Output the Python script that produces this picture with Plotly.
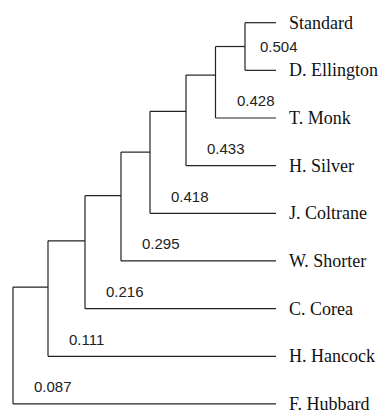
import plotly.graph_objects as go

# ---- data ----
leaf_names = ["Standard", "D. Ellington", "T. Monk", "H. Silver", "J. Coltrane",
              "W. Shorter", "C. Corea", "H. Hancock", "F. Hubbard"]
# internal node support values, from the root inward
node_labels = ["0.087", "0.111", "0.216", "0.295", "0.418", "0.433", "0.428", "0.504"]
# branch lengths between successive internal nodes (root inward), and tip length
branch_lengths = [3.5, 3.7, 3.6, 2.9, 3.6, 2.95, 2.95]
tip_length = 3.1

# ---- layout of the (caterpillar) tree ----
n_int = len(node_labels)
node_x = [0.0]
for b in branch_lengths:
    node_x.append(node_x[-1] + b)
tip_x = node_x[-1] + tip_length
leaf_y = list(range(len(leaf_names)))
f = 0.4  # where a node's stem attaches along its vertical

join = [0.0] * n_int
join[n_int - 1] = (leaf_y[0] + leaf_y[1]) / 2
for k in range(n_int - 2, -1, -1):
    bottom = leaf_y[len(leaf_names) - 1 - k]
    join[k] = join[k + 1] + f * (bottom - join[k + 1])

xs, ys = [], []
def seg(x0, y0, x1, y1):
    xs.extend([x0, x1, None]); ys.extend([y0, y1, None])

label_pos = []
for k in range(n_int):
    if k < n_int - 1:
        top_y = join[k + 1]
        bottom_leaf = len(leaf_names) - 1 - k
        seg(node_x[k], top_y, node_x[k + 1], top_y)
        label_pos.append((node_x[k] + 1.9, leaf_y[bottom_leaf] - 0.357))
    else:
        top_y = leaf_y[0]
        bottom_leaf = 1
        seg(node_x[k], leaf_y[0], tip_x, leaf_y[0])
        label_pos.append((node_x[k] + 1.3, (leaf_y[0] + leaf_y[1]) / 2))
    seg(node_x[k], top_y, node_x[k], leaf_y[bottom_leaf])
    seg(node_x[k], leaf_y[bottom_leaf], tip_x, leaf_y[bottom_leaf])

fig = go.Figure()
fig.add_trace(go.Scatter(x=xs, y=ys, mode="lines",
                         line=dict(color="#222222", width=1.2),
                         hoverinfo="skip", showlegend=False))

annotations = []
for name, y in zip(leaf_names, leaf_y):
    annotations.append(dict(x=tip_x + 1.1, y=y, xref="x", yref="y", text=name,
                            showarrow=False, xanchor="left", yanchor="middle",
                            font=dict(family="Liberation Serif", size=18, color="#111111")))
for lab, (x, y) in zip(node_labels, label_pos):
    annotations.append(dict(x=x, y=y, xref="x", yref="y", text=lab,
                            showarrow=False, xanchor="left", yanchor="middle",
                            font=dict(family="Liberation Sans", size=15, color="#222222")))

fig.update_layout(
    width=379, height=410,
    margin=dict(l=0, r=0, t=0, b=0),
    paper_bgcolor="white", plot_bgcolor="white",
    xaxis=dict(range=[-1.3, 36.6], visible=False, fixedrange=True),
    yaxis=dict(range=[8.127, -0.476], visible=False, fixedrange=True),
    annotations=annotations,
    showlegend=False,
)

fig.write_html("out.html",
               config={"displayModeBar": False, "staticPlot": True},
               post_script="document.body.style.margin='0';document.body.style.overflow='hidden';")
